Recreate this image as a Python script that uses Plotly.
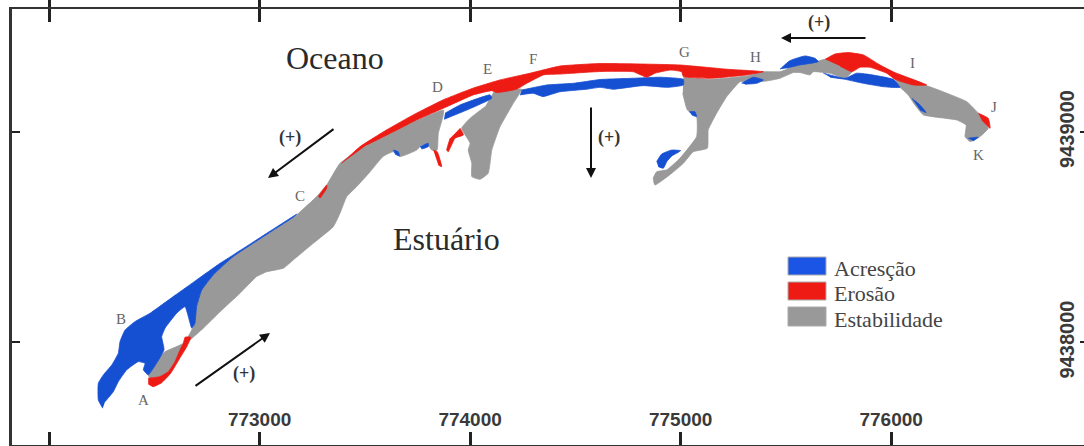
import plotly.graph_objects as go

# Map polygons (easting / northing, metres)
gray_spit_e = [772480,772471,772527,772551,772638,772670,772693,772701,772725,772780,772875,773034,773176,773271,773319,773382,773509,773667,773873,773871,773849,773843,773818,773800,773770,773746,773667,773634,773586,773525,773461,773414,773382,773350,773255,773160,773113,773034,772986,772907,772812,772733,772670,772622,772598,772566,772527]
gray_spit_n = [9437830,9437846,9437933,9437956,9437996,9438044,9438091,9438170,9438249,9438321,9438408,9438511,9438606,9438693,9438748,9438851,9438938,9439018,9439104,9439073,9438994,9438914,9438914,9438938,9438938,9438914,9438883,9438906,9438883,9438811,9438740,9438693,9438614,9438550,9438471,9438392,9438353,9438336,9438313,9438234,9438146,9438068,9438012,9437965,9437909,9437861,9437838]
gray_e_e = [774110,774245,774205,774142,774103,774086,774047,774008,774008,773991,774000,773960,774000,774071]
gray_e_n = [9439187,9439203,9439136,9439025,9438914,9438804,9438775,9438788,9438851,9438914,9438946,9439018,9439065,9439120]
gray_g_e = [775013,775140,775314,775391,775472,775535,775646,775686,775813,775781,775710,775630,775615,775567,775535,775472,775409,775306,775282,775219,775171,775131,775127,775060,775013,774958,774878,774870,774886,774934,774997,775076,775076,775032,775010]
gray_g_n = [9439260,9439250,9439266,9439286,9439286,9439310,9439334,9439345,9439286,9439255,9439279,9439286,9439271,9439282,9439282,9439255,9439242,9439237,9439239,9439168,9439089,9439010,9438923,9438906,9438851,9438804,9438748,9438780,9438811,9438820,9438875,9438978,9439073,9439104,9439184]
gray_i_e = [776018,776169,776264,776359,776414,776461,776422,776375,776351,776356,776311,776216,776153,776113,776081,776042]
gray_i_n = [9439247,9439219,9439184,9439144,9439089,9439018,9438978,9438954,9438978,9439033,9439057,9439070,9439081,9439128,9439176,9439212]

blue_sw_e = [772255,772234,772234,772258,772298,772329,772337,772361,772408,772480,772590,772701,772812,772875,773176,773160,772875,772780,772725,772701,772693,772678,772646,772606,772551,772535,772546,772471,772448,772456,772424,772369,772329,772305,772266]
blue_sw_n = [9437688,9437727,9437806,9437846,9437893,9437949,9438004,9438059,9438099,9438139,9438218,9438297,9438376,9438416,9438609,9438595,9438408,9438321,9438249,9438170,9438091,9438068,9438170,9438139,9438068,9438028,9437965,9437846,9437870,9437901,9437909,9437870,9437814,9437766,9437719]
blue_de_e = [773881,773952,774095,774103,773984,773876]
blue_de_n = [9439089,9439128,9439176,9439160,9439104,9439060]
blue_fg_e = [774245,774364,774490,774617,774774,774902,775013,775013,774940,774821,774679,774617,774554,774427,774346,774299,774237]
blue_fg_n = [9439199,9439223,9439231,9439249,9439255,9439260,9439250,9439223,9439212,9439220,9439203,9439212,9439203,9439191,9439168,9439184,9439176]
blue_d1_e = [773635,773659,773664,773643]
blue_d1_n = [9438914,9438906,9438886,9438895]
blue_d2_e = [773762,773801,773801,773770]
blue_d2_n = [9438930,9438946,9438930,9438919]
blue_g1_e = [775041,775068,775076,775053]
blue_g1_n = [9439096,9439096,9439073,9439081]
blue_g2_e = [774886,774910,774958,775000,774958,774934,774918,774894]
blue_g2_n = [9438859,9438895,9438914,9438911,9438886,9438859,9438828,9438835]
blue_h1_e = [775290,775345,775393,775361,775306]
blue_h1_n = [9439231,9439260,9439247,9439231,9439227]
blue_h2_e = [775472,775520,775591,775638,775654,775567,775504]
blue_h2_n = [9439298,9439339,9439361,9439350,9439334,9439318,9439303]
blue_i_e = [775678,775781,775836,775884,776010,776042,775963,775868,775781,775710]
blue_i_n = [9439279,9439255,9439279,9439275,9439250,9439212,9439215,9439231,9439250,9439260]
blue_j_e = [776098,776137,776166,776137]
blue_j_n = [9439160,9439128,9439092,9439104]
blue_k_e = [776366,776414,776389]
blue_k_n = [9438970,9438975,9438957]

red_a_e = [772471,772527,772566,772598,772622,772638,772646,772673,772654,772622,772578,772535,772495,772471]
red_a_n = [9437830,9437838,9437861,9437909,9437965,9437996,9438025,9438025,9437980,9437927,9437854,9437809,9437790,9437803]
red_main_e = [773390,773477,773604,773730,773871,774014,774142,774285,774427,774617,774997,775219,775393,775314,775140,775013,775005,774950,774878,774839,774775,774617,774427,774348,774269,774221,774126,774103,774015,773889,773746,773635,773509]
red_main_n = [9438851,9438930,9439010,9439081,9439152,9439208,9439247,9439279,9439313,9439325,9439318,9439298,9439286,9439271,9439255,9439263,9439286,9439294,9439279,9439260,9439286,9439287,9439275,9439271,9439231,9439203,9439187,9439196,9439176,9439120,9439057,9439001,9438938]
red_c_e = [773279,773319,773319,773287]
red_c_n = [9438693,9438748,9438733,9438685]
red_d_e = [773825,773844,773865,773849]
red_d_n = [9438914,9438906,9438835,9438843]
red_e_e = [773952,773968,773928,773896,773889,773905]
red_e_n = [9439018,9438986,9438970,9438906,9438914,9438970]
red_i_e = [775686,775733,775796,775868,775947,776018,776169,776105,776018,775979,775900,775852,775813,775757]
red_i_n = [9439345,9439370,9439377,9439366,9439318,9439282,9439223,9439223,9439250,9439279,9439307,9439307,9439286,9439313]
red_j_e = [776414,776461,776470,776430]
red_j_n = [9439089,9439065,9439018,9439057]

x_ticks = [772000, 773000, 774000, 775000, 776000]
x_tick_text = ["", "773000", "774000", "775000", "776000"]
y_ticks = [9438000, 9439000]
y_tick_text = ["9438000", "9439000"]
legend_names = ["Acresção", "Erosão", "Estabilidade"]
point_letters = ["A", "B", "C", "D", "E", "F", "G", "H", "I", "J", "K"]

BLUE, RED, GRAY = "#1650d2", "#ee1b14", "#999999"
W, H, L, T, B = 1084, 446, 12, 9, 1
X0, X1 = 771824, 776916
Y1, Y0 = 9439584, 9437513


def ex(px):
    return X0 + (px - L) * (X1 - X0) / (W - L)


def ny(py):
    return Y1 - (py - T) * (Y1 - Y0) / (H - B - T)


fig = go.Figure()
groups = [
    (GRAY, "y", [(gray_spit_e, gray_spit_n), (gray_e_e, gray_e_n), (gray_g_e, gray_g_n), (gray_i_e, gray_i_n)]),
    (BLUE, "y2", [(blue_sw_e, blue_sw_n), (blue_de_e, blue_de_n), (blue_fg_e, blue_fg_n), (blue_d1_e, blue_d1_n),
                  (blue_d2_e, blue_d2_n), (blue_g1_e, blue_g1_n), (blue_g2_e, blue_g2_n), (blue_h1_e, blue_h1_n),
                  (blue_h2_e, blue_h2_n), (blue_i_e, blue_i_n), (blue_j_e, blue_j_n), (blue_k_e, blue_k_n)]),
    (RED, "y2", [(red_a_e, red_a_n), (red_main_e, red_main_n), (red_c_e, red_c_n), (red_d_e, red_d_n),
                 (red_e_e, red_e_n), (red_i_e, red_i_n), (red_j_e, red_j_n)]),
]
for color, yax, polys in groups:
    for xs, ys in polys:
        fig.add_trace(go.Scatter(x=xs, y=ys, mode="lines", fill="toself", fillcolor=color,
                                 line=dict(width=0.8, color=color, shape="spline", smoothing=0.4), yaxis=yax,
                                 showlegend=False, hoverinfo="skip"))

SERIF = "Liberation Serif"
ann = []


def label(text, px, py, size, color, serif=True, bold=False):
    t = f"<b>{text}</b>" if bold else text
    ann.append(dict(x=ex(px), y=ny(py), xref="x", yref="y", text=t, showarrow=False,
                    xanchor="center", yanchor="middle",
                    font=dict(family=SERIF if serif else "Liberation Sans", size=size, color=color)))


label("Oceano", 335, 58, 32, "#2a2a2a")
label("Estuário", 446, 239, 32, "#2a2a2a")

letter_pos = [(143, 400), (121, 319), (300, 196), (437, 87), (487, 69), (533, 59), (684, 52), (755, 57), (912, 63), (994, 107), (978, 155)]
for s, (px, py) in zip(point_letters, letter_pos):
    label(s, px, py, 15, "#666666")

for px, py in [(290, 137), (609, 137), (244, 373), (819, 22)]:
    label("(+)", px, py, 18, "#333333", bold=True)

arrows = [((335, 128), (268, 178)), ((591, 106), (591, 178)), ((194, 387), (270, 333)), ((867, 38), (781, 38))]
for (ax, ay), (hx, hy) in arrows:
    ann.append(dict(x=ex(hx), y=ny(hy), ax=ex(ax), ay=ny(ay), xref="x", yref="y", axref="x", ayref="y",
                    text="", showarrow=True, arrowhead=2, arrowsize=1, arrowwidth=2, arrowcolor="#111111"))

shapes = []
swatches = [("#1a55e6", 257, 275, 268), ("#ee1b14", 282, 300, 293), ("#999999", 307, 326, 319)]
for name, (c, y0, y1, ytext) in zip(legend_names, swatches):
    shapes.append(dict(type="rect", xref="x", yref="y", x0=ex(788), x1=ex(826), y0=ny(y0), y1=ny(y1),
                       fillcolor=c, line=dict(width=1, color="#aaaaaa"), layer="above"))
    ann.append(dict(x=ex(832), y=ny(ytext), xref="x", yref="y", text=name, showarrow=False,
                    xanchor="left", yanchor="middle", font=dict(family=SERIF, size=22, color="#444444")))

fig.update_layout(
    width=W, height=H, autosize=False,
    margin=dict(l=L, r=0, t=T, b=B, pad=0),
    paper_bgcolor="white", plot_bgcolor="white",
    annotations=ann, shapes=shapes, showlegend=False,
    xaxis=dict(range=[X0, X1], tickmode="array", tickvals=x_ticks, ticktext=x_tick_text,
               ticks="inside", ticklen=13, tickwidth=3, tickcolor="#222222",
               ticklabelposition="inside", ticklabelstandoff=3,
               tickfont=dict(family="Liberation Sans", size=19, color="#3a3a3a", weight="bold"),
               showgrid=False, zeroline=False,
               showline=True, linewidth=2, linecolor="#333333", mirror="allticks"),
    yaxis=dict(range=[Y0, Y1], tickmode="array", tickvals=y_ticks, ticktext=["", ""],
               ticks="inside", ticklen=8, tickwidth=2, tickcolor="#222222",
               showgrid=False, zeroline=False, showline=True, linewidth=3, linecolor="#333333"),
    yaxis2=dict(range=[Y0, Y1], overlaying="y", side="right", tickmode="array", tickvals=y_ticks,
                ticktext=y_tick_text, ticks="inside", ticklen=4, tickwidth=2, tickcolor="#222222",
                ticklabelposition="inside", ticklabelstandoff=3, tickangle=-90,
                tickfont=dict(family="Liberation Sans", size=20, color="#3a3a3a", weight="bold"),
                showgrid=False, zeroline=False, showline=False),
)
fig.write_html("out.html", config=dict(displayModeBar=False),
               post_script="document.body.style.margin='0';document.body.style.overflow='hidden';")
